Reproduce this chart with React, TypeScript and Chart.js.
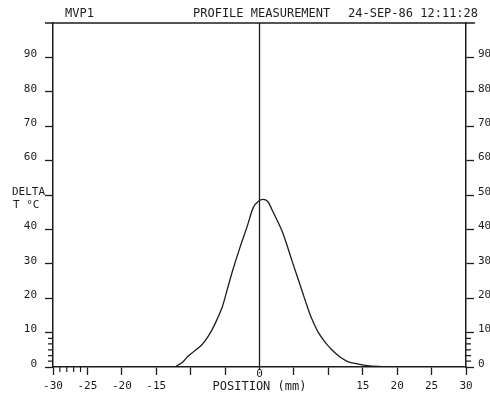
import React, { useEffect, useRef } from "react";
import { Chart, registerables } from "chart.js";

Chart.register(...registerables);

// Profile data: position (mm) and delta T (°C)
const POSITION = [-13, -12.3, -11.8, -11.1, -10.5, -9.8, -9.1, -8.4, -7.6, -6.9, -6.2, -5.4, -4.7, -4.0, -2.8, -1.8, -0.9, -0.2, 0.5, 1.2, 1.8, 2.5, 3.3, 4.0, 4.7, 5.4, 6.2, 6.9, 7.6, 8.5, 9.5, 10.5, 11.7, 12.9, 14.2, 15.0, 16.0, 18.0, 20.0];
const DELTA_T = [0, 0, 0.6, 1.5, 2.9, 4.1, 5.2, 6.4, 8.5, 10.8, 13.7, 17.5, 22.4, 27.4, 35.0, 40.8, 46.4, 48.1, 48.7, 48.1, 45.8, 42.9, 39.4, 35.4, 31.0, 26.8, 22.0, 17.8, 14.0, 10.2, 7.3, 5.0, 2.9, 1.5, 0.9, 0.6, 0.3, 0.1, 0];

const X_TICKS = [-30, -25, -20, -15, -10, -5, 0, 5, 10, 15, 20, 25, 30];
const X_LABELED = [-30, -25, -20, -15, 15, 20, 25, 30];
const X_MINOR = [-29, -28, -27, -26];
const Y_TICKS = [0, 10, 20, 30, 40, 50, 60, 70, 80, 90];
const Y_LABELED = [0, 10, 20, 30, 40, 60, 70, 80, 90];
const Y_MINOR = [1.7, 3.3, 5, 6.7, 8.3];

const TITLE_LEFT = "MVP1";
const TITLE_MID = "PROFILE MEASUREMENT";
const TITLE_DATE = "24-SEP-86 12:11:28";
const X_TITLE = "POSITION (mm)";
const Y_TITLE = ["DELTA", "T °C"];

const INK = "#1c1c1c";
const FONT = '"DejaVu Sans Mono", "Liberation Mono", monospace';

const overlay = {
  id: "plotterOverlay",
  afterDraw(chart: any) {
    const { ctx, chartArea } = chart;
    const xs = chart.scales.x;
    const ys = chart.scales.y;
    const { left, right, top, bottom } = chartArea;
    ctx.save();
    ctx.strokeStyle = INK;
    ctx.fillStyle = INK;
    ctx.lineWidth = 1.5;
    // top frame line
    ctx.beginPath();
    ctx.moveTo(left - 8, top);
    ctx.lineTo(right + 9, top);
    ctx.stroke();
    // vertical line at 0
    const x0 = xs.getPixelForValue(0);
    ctx.lineWidth = 1.3;
    ctx.beginPath();
    ctx.moveTo(x0, top);
    ctx.lineTo(x0, bottom + 3);
    ctx.stroke();
    // minor x ticks
    ctx.lineWidth = 1.2;
    X_MINOR.forEach((v) => {
      const px = xs.getPixelForValue(v);
      ctx.beginPath();
      ctx.moveTo(px, bottom);
      ctx.lineTo(px, bottom + 5);
      ctx.stroke();
    });
    // minor y ticks both sides
    Y_MINOR.forEach((v) => {
      const py = ys.getPixelForValue(v);
      ctx.beginPath();
      ctx.moveTo(left, py);
      ctx.lineTo(left - 5, py);
      ctx.moveTo(right, py);
      ctx.lineTo(right + 5, py);
      ctx.stroke();
    });
    // texts
    ctx.textBaseline = "middle";
    ctx.font = `12px ${FONT}`;
    ctx.textAlign = "left";
    ctx.fillText(TITLE_LEFT, left + 12, top - 9);
    ctx.fillText(TITLE_MID, 193, top - 9);
    ctx.fillText(TITLE_DATE, 348, top - 9);
    ctx.textAlign = "center";
    ctx.fillText(X_TITLE, x0, bottom + 20);
    ctx.font = `11px ${FONT}`;
    ctx.fillText("0", x0, bottom + 7);
    ctx.textAlign = "left";
    ctx.font = `11px ${FONT}`;
    const y50 = ys.getPixelForValue(50);
    ctx.fillText(Y_TITLE[0], 12, y50 - 3);
    ctx.fillText(Y_TITLE[1], 13, y50 + 10);
    ctx.restore();
  },
};

const tickCfg = (labeled: number[]) => ({
  autoSkip: false,
  maxRotation: 0,
  color: INK,
  font: { family: FONT, size: 11 },
  callback: (v: any) => (labeled.includes(Number(v)) ? String(v) : ""),
});

export default function App() {
  const ref = useRef<HTMLCanvasElement>(null);
  useEffect(() => {
    if (!ref.current) return;
    const data = POSITION.map((x, i) => ({ x, y: DELTA_T[i] }));
    const chart = new Chart(ref.current, {
      type: "scatter",
      data: {
        datasets: [
          {
            data,
            showLine: true,
            borderColor: INK,
            borderWidth: 1.3,
            pointRadius: 0,
            tension: 0.3,
            fill: false,
          },
        ],
      },
      options: {
        animation: false,
        responsive: false,
        layout: { padding: { top: 23, left: 0, right: 0, bottom: 0 } },
        plugins: { legend: { display: false }, tooltip: { enabled: false }, title: { display: false } },
        scales: {
          x: {
            type: "linear",
            position: "bottom",
            min: -30,
            max: 30,
            afterBuildTicks: (s: any) => {
              s.ticks = X_TICKS.map((value) => ({ value }));
            },
            afterFit: (s: any) => {
              s.height = 30;
            },
            ticks: { ...tickCfg(X_LABELED), padding: 5 },
            grid: {
              drawOnChartArea: false,
              drawTicks: true,
              tickLength: 8,
              tickWidth: 1.3,
              tickColor: (c: any) => (c.tick && c.tick.value === 0 ? "rgba(0,0,0,0)" : INK),
            },
            border: { display: true, color: INK, width: 1.5 },
          },
          y: {
            type: "linear",
            position: "left",
            min: 0,
            max: 100,
            afterBuildTicks: (s: any) => {
              s.ticks = Y_TICKS.map((value) => ({ value }));
            },
            afterFit: (s: any) => {
              s.width = 53;
            },
            ticks: { ...tickCfg(Y_LABELED), padding: 8, labelOffset: -3 },
            grid: { drawOnChartArea: false, drawTicks: true, tickLength: 8, tickWidth: 1.3, tickColor: INK },
            border: { display: true, color: INK, width: 1.5 },
          },
          y2: {
            type: "linear",
            position: "right",
            min: 0,
            max: 100,
            afterBuildTicks: (s: any) => {
              s.ticks = Y_TICKS.map((value) => ({ value }));
            },
            afterFit: (s: any) => {
              s.width = 24;
            },
            ticks: { ...tickCfg(Y_TICKS), padding: 4, labelOffset: -3 },
            grid: { drawOnChartArea: false, drawTicks: true, tickLength: 8, tickWidth: 1.3, tickColor: INK },
            border: { display: true, color: INK, width: 1.5 },
          },
        },
      },
      plugins: [overlay],
    });
    return () => chart.destroy();
  }, []);
  return (
    <div style={{ position: "absolute", left: 0, top: 0, width: 490, height: 397, background: "#fff" }}>
      <canvas ref={ref} width={490} height={397} />
    </div>
  );
}
